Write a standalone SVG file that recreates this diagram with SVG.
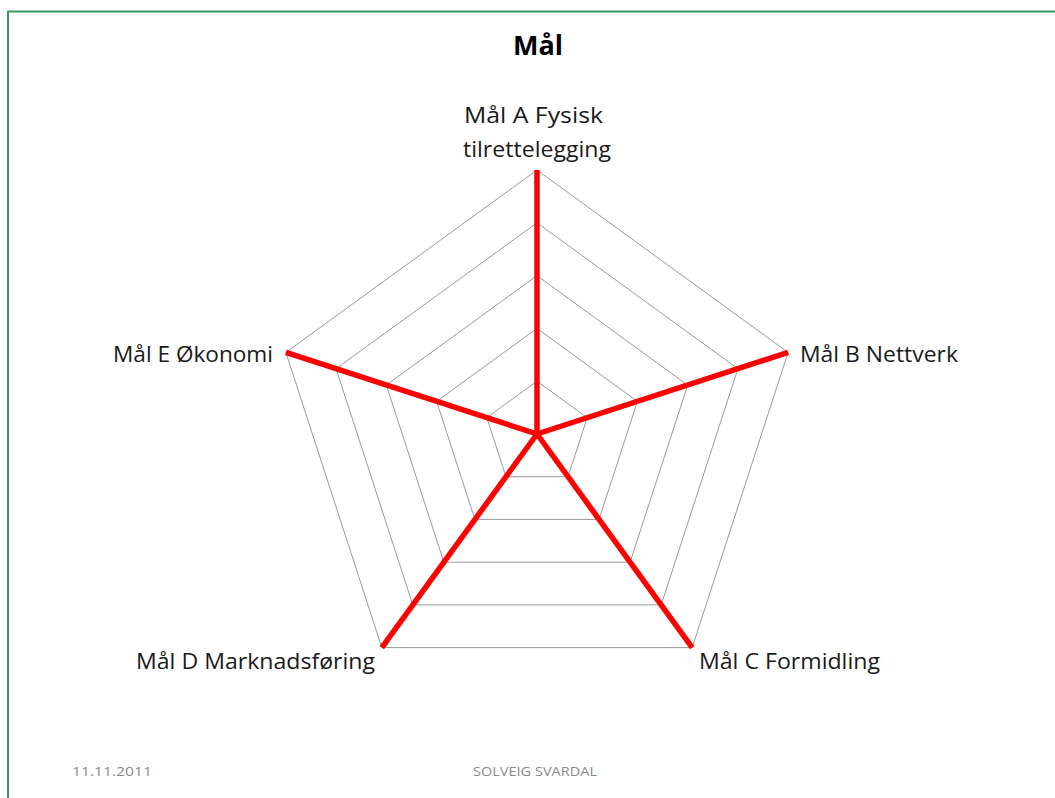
<svg xmlns="http://www.w3.org/2000/svg" width="1055" height="798" viewBox="0 0 1055 798">
<style>
.ring{fill:none;stroke:#9a9a9a;stroke-width:1}
.spoke{stroke:#ff0000;stroke-width:5.5;stroke-linecap:butt}
.lbl{font-family:"Open Sans","Liberation Sans",sans-serif;font-size:21px;fill:#1a1a1a}
.title{font-family:"Open Sans","Liberation Sans",sans-serif;font-size:26px;font-weight:bold;fill:#000;text-anchor:middle}
.foot{font-family:"Open Sans","Liberation Sans",sans-serif;font-size:13px;fill:#8a8a8a}
</style>
<rect x="0" y="0" width="1055" height="798" fill="#fff"/>
<path d="M8,820 L8,11.5 L1070,11.5" fill="none" stroke="#3a9a62" stroke-width="2"/>
<text class="title" x="538" y="55" textLength="50" lengthAdjust="spacingAndGlyphs">Mål</text>
<g id="grid">
<polygon class="ring" points="537,381.2 587.2,417.7 568,476.7 506,476.7 486.8,417.7"/>
<polygon class="ring" points="537,328.4 637.4,401.4 599.1,519.4 474.9,519.4 436.6,401.4"/>
<polygon class="ring" points="537,275.6 687.7,385.1 630.1,562.2 443.9,562.2 386.3,385.1"/>
<polygon class="ring" points="537,222.8 737.9,368.7 661.2,604.9 412.8,604.9 336.1,368.7"/>
<polygon class="ring" points="537,170 788.1,352.4 692.2,647.6 381.8,647.6 285.9,352.4"/>
</g>
<g id="connectors">
<line class="spoke" x1="537" y1="434" x2="537" y2="170"/>
<line class="spoke" x1="537" y1="434" x2="788.1" y2="352.4"/>
<line class="spoke" x1="537" y1="434" x2="692.2" y2="647.6"/>
<line class="spoke" x1="537" y1="434" x2="381.8" y2="647.6"/>
<line class="spoke" x1="537" y1="434" x2="285.9" y2="352.4"/>
</g>
<g id="nodeA">
<text class="lbl" x="464" y="123" textLength="139" lengthAdjust="spacingAndGlyphs">Mål A Fysisk</text>
<text class="lbl" x="463" y="157" textLength="148" lengthAdjust="spacingAndGlyphs">tilrettelegging</text>
</g>
<g id="nodeB"><text class="lbl" x="800" y="362" textLength="158" lengthAdjust="spacingAndGlyphs">Mål B Nettverk</text></g>
<g id="nodeC"><text class="lbl" x="699" y="669" textLength="181" lengthAdjust="spacingAndGlyphs">Mål C Formidling</text></g>
<g id="nodeD"><text class="lbl" x="136" y="669" textLength="239" lengthAdjust="spacingAndGlyphs">Mål D Marknadsføring</text></g>
<g id="nodeE"><text class="lbl" x="113" y="362" textLength="160" lengthAdjust="spacingAndGlyphs">Mål E Økonomi</text></g>
<text class="foot" x="72" y="776" textLength="80" lengthAdjust="spacingAndGlyphs">11.11.2011</text>
<text class="foot" x="473" y="776" textLength="124" lengthAdjust="spacingAndGlyphs">SOLVEIG SVARDAL</text>
</svg>
